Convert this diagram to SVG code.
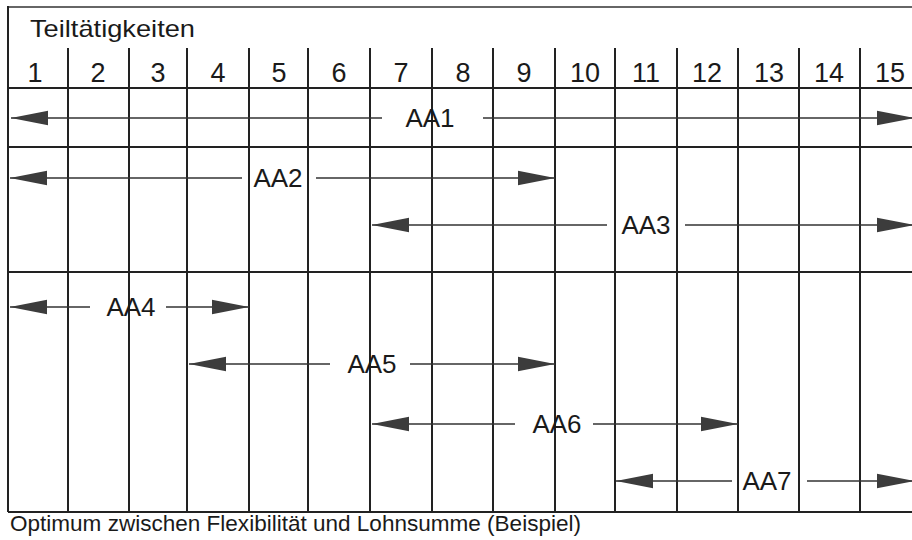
<svg xmlns="http://www.w3.org/2000/svg" width="912" height="540" viewBox="0 0 912 540">
<defs>
<style>
.grid{stroke:#222;stroke-width:2;fill:none}
.top{stroke:#333;stroke-width:1.6;fill:none}
.arr{stroke:#333;stroke-width:1.6;fill:none;marker-end:url(#ah)}
.lbl{font-family:"Liberation Sans",Arial,sans-serif;font-size:26px;fill:#1a1a1a;text-anchor:middle}
.num{font-family:"Liberation Sans",Arial,sans-serif;font-size:27px;fill:#1a1a1a;text-anchor:middle}
.ttl{font-family:"Liberation Sans",Arial,sans-serif;font-size:24px;fill:#1a1a1a}
.cap{font-family:"Liberation Sans",Arial,sans-serif;font-size:22.5px;fill:#1a1a1a}
</style>
<marker id="ah" viewBox="0 0 40 16" markerWidth="40" markerHeight="16" refX="37" refY="8" orient="auto" markerUnits="userSpaceOnUse">
<path d="M0,0.8 L37,8 L0,15.2 Z" fill="#3c3c3c"/>
</marker>
</defs>
<rect width="912" height="540" fill="#ffffff"/>
<g id="grid">
<line class="top" x1="8" y1="7" x2="912" y2="7"/>
<line class="grid" x1="8" y1="6" x2="8" y2="512"/>
<line class="grid" x1="8" y1="88" x2="912" y2="88"/>
<line class="grid" x1="8" y1="147" x2="912" y2="147"/>
<line class="grid" x1="8" y1="272" x2="912" y2="272"/>
<line class="grid" x1="8" y1="512" x2="912" y2="512"/>
<g class="grid">
<line x1="68" y1="48" x2="68" y2="512"/>
<line x1="129" y1="48" x2="129" y2="512"/>
<line x1="187" y1="48" x2="187" y2="512"/>
<line x1="249" y1="48" x2="249" y2="512"/>
<line x1="308" y1="48" x2="308" y2="512"/>
<line x1="370" y1="48" x2="370" y2="512"/>
<line x1="432" y1="48" x2="432" y2="512"/>
<line x1="493" y1="48" x2="493" y2="512"/>
<line x1="555" y1="48" x2="555" y2="512"/>
<line x1="615" y1="48" x2="615" y2="512"/>
<line x1="677" y1="48" x2="677" y2="512"/>
<line x1="738" y1="48" x2="738" y2="512"/>
<line x1="799" y1="48" x2="799" y2="512"/>
<line x1="860" y1="48" x2="860" y2="512"/>
</g>
</g>
<g id="header">
<text class="ttl" x="30" y="37" textLength="165" lengthAdjust="spacingAndGlyphs">Teiltätigkeiten</text>
<text class="num" x="35" y="82">1</text>
<text class="num" x="98" y="82">2</text>
<text class="num" x="158" y="82">3</text>
<text class="num" x="218" y="82">4</text>
<text class="num" x="279" y="82">5</text>
<text class="num" x="339" y="82">6</text>
<text class="num" x="401" y="82">7</text>
<text class="num" x="463" y="82">8</text>
<text class="num" x="524" y="82">9</text>
<text class="num" x="585" y="82">10</text>
<text class="num" x="646" y="82">11</text>
<text class="num" x="707" y="82">12</text>
<text class="num" x="769" y="82">13</text>
<text class="num" x="829" y="82">14</text>
<text class="num" x="890" y="82">15</text>
</g>
<g id="connectors">
<line class="arr" x1="382" y1="118" x2="11" y2="118"/>
<line class="arr" x1="483" y1="118" x2="914" y2="118"/>
<line class="arr" x1="242" y1="178" x2="10" y2="178"/>
<line class="arr" x1="316" y1="178" x2="555" y2="178"/>
<line class="arr" x1="607" y1="225" x2="372" y2="225"/>
<line class="arr" x1="685" y1="225" x2="914" y2="225"/>
<line class="arr" x1="90" y1="307" x2="10" y2="307"/>
<line class="arr" x1="166" y1="307" x2="249" y2="307"/>
<line class="arr" x1="330" y1="364" x2="189" y2="364"/>
<line class="arr" x1="410" y1="364" x2="555" y2="364"/>
<line class="arr" x1="515" y1="424" x2="372" y2="424"/>
<line class="arr" x1="593" y1="424" x2="738" y2="424"/>
<line class="arr" x1="732" y1="481" x2="616" y2="481"/>
<line class="arr" x1="807" y1="481" x2="914" y2="481"/>
</g>
<g id="AA1"><text class="lbl" x="430" y="127">AA1</text></g>
<g id="AA2"><text class="lbl" x="278" y="187">AA2</text></g>
<g id="AA3"><text class="lbl" x="646" y="234">AA3</text></g>
<g id="AA4"><text class="lbl" x="131" y="316">AA4</text></g>
<g id="AA5"><text class="lbl" x="372" y="373">AA5</text></g>
<g id="AA6"><text class="lbl" x="557" y="433">AA6</text></g>
<g id="AA7"><text class="lbl" x="767" y="490">AA7</text></g>
<g id="caption">
<text class="cap" x="10" y="531" textLength="571" lengthAdjust="spacingAndGlyphs">Optimum zwischen Flexibilität und Lohnsumme (Beispiel)</text>
</g>
</svg>
